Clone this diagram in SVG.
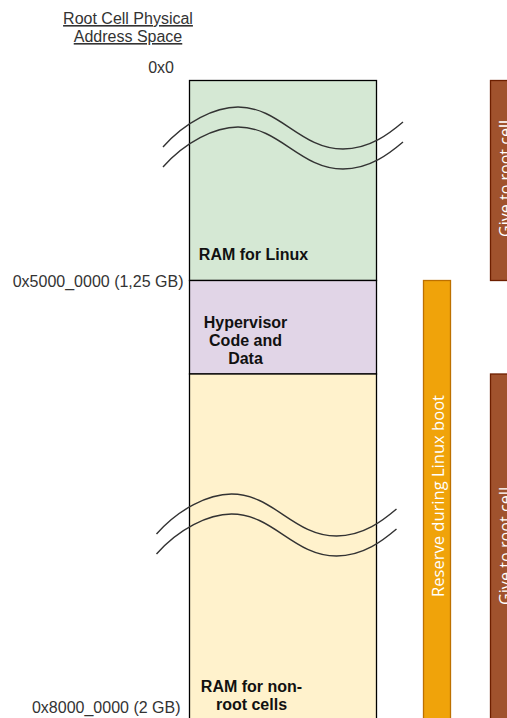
<svg xmlns="http://www.w3.org/2000/svg" xmlns:xlink="http://www.w3.org/1999/xlink" width="507" height="718" viewBox="0 0 507 718">
  <style>
    .lbl { font-family: "Liberation Sans", Arial, sans-serif; font-size: 16px; fill: #333333; }
    .bold { font-family: "Liberation Sans", Arial, sans-serif; font-size: 16px; font-weight: bold; fill: #111111; text-anchor: middle; }
    .vert { font-family: "Open Sans", "Liberation Sans", Arial, sans-serif; font-size: 17px; fill: #ffffff; text-anchor: middle; }
    .blk { stroke: #000000; stroke-width: 1.3; }
    .wave { fill: none; stroke: #333333; stroke-width: 1.4; }
    .orange { fill: #f0a30a; stroke: #bd7000; stroke-width: 1.3; }
    .brown { fill: #a0522d; stroke: #6d1f00; stroke-width: 1.3; }
  </style>
  <defs>
    <g id="wavepair">
      <path class="wave" d="M163,147 C185,122 215,107 238,107 C280,107 300,149 343,149 C370,149 390,133 403,122"/>
      <path class="wave" d="M163,167 C185,142 215,127 238,127 C280,127 300,169 343,169 C370,169 390,153 403,142"/>
    </g>
  </defs>
  <rect width="507" height="718" fill="#ffffff"/>

  <g id="title">
    <text class="lbl" x="128" y="24" text-anchor="middle" text-decoration="underline">Root Cell Physical</text>
    <text class="lbl" x="128" y="42" text-anchor="middle" text-decoration="underline">Address Space</text>
  </g>

  <g id="addr-labels">
    <text class="lbl" x="174" y="72.5" text-anchor="end">0x0</text>
    <text class="lbl" x="183.5" y="286.5" text-anchor="end">0x5000_0000 (1,25 GB)</text>
    <text class="lbl" x="180.5" y="713" text-anchor="end">0x8000_0000 (2 GB)</text>
  </g>

  <g id="ram-linux">
    <rect class="blk" x="189.5" y="80.5" width="187" height="200" fill="#d5e8d4"/>
    <text class="bold" x="253.5" y="259.5">RAM for Linux</text>
  </g>

  <g id="hypervisor">
    <rect class="blk" x="189.5" y="280.5" width="187" height="93.5" fill="#e1d5e7"/>
    <text class="bold" x="245.5" y="328">Hypervisor</text>
    <text class="bold" x="245.5" y="346">Code and</text>
    <text class="bold" x="245.5" y="364">Data</text>
  </g>

  <g id="ram-nonroot">
    <rect class="blk" x="189.5" y="374" width="187" height="360" fill="#fff2cc"/>
    <text class="bold" x="251.5" y="691.5">RAM for non-</text>
    <text class="bold" x="251.5" y="709.5">root cells</text>
  </g>

  <g id="breaks">
    <use xlink:href="#wavepair"/>
    <use xlink:href="#wavepair" transform="translate(-6.5,387)"/>
  </g>

  <g id="reserve-bar">
    <rect class="orange" x="423.5" y="280.5" width="27" height="460"/>
    <text class="vert" transform="translate(437,496) rotate(-90)" y="7" textLength="202" lengthAdjust="spacingAndGlyphs">Reserve during Linux boot</text>
  </g>

  <g id="give-root-top">
    <rect class="brown" x="490.5" y="80.5" width="27" height="200"/>
    <text class="vert" transform="translate(504,178.5) rotate(-90)" y="6.5" textLength="117" lengthAdjust="spacingAndGlyphs">Give to root cell</text>
  </g>

  <g id="give-root-bottom">
    <rect class="brown" x="490.5" y="374" width="27" height="360"/>
    <text class="vert" transform="translate(504,546) rotate(-90)" y="6.5" textLength="118" lengthAdjust="spacingAndGlyphs">Give to root cell</text>
  </g>

  <g id="connectors"></g>
</svg>
